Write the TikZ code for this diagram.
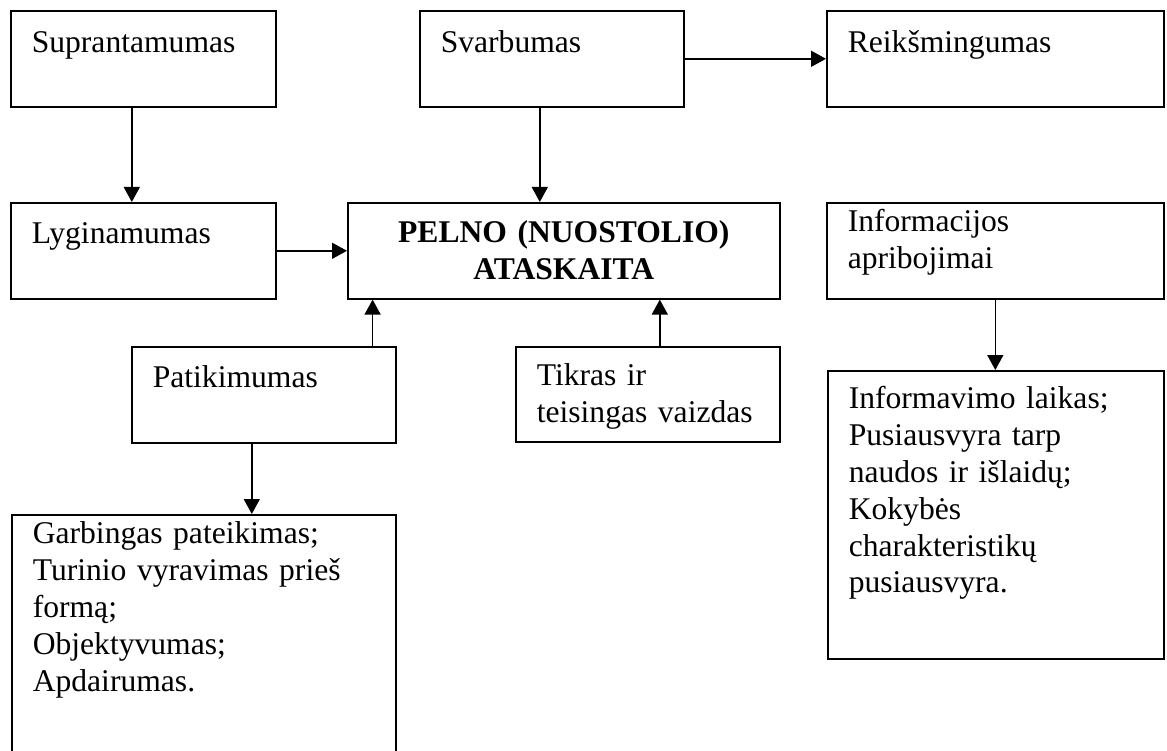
\documentclass[tikz,border=0pt]{standalone}
\usepackage{fontspec}
\setmainfont{Liberation Serif}
\usetikzlibrary{arrows.meta}

\begin{document}
\begin{tikzpicture}[x=1pt,y=1pt,
    box/.style n args={3}{draw,line width=1.6pt,anchor=north west,align=left,
      inner xsep=21pt,inner ysep=0pt,text width=#1,text height=#2,text depth=#3,
      font=\fontsize{31.6}{36.8}\selectfont},
    arr/.style={-{Triangle[length=15pt,width=16pt]},line width=1.6pt}]
  \useasboundingbox (0,0) rectangle (1167,-751);
  \node[box={223pt}{42pt}{54pt}] (sup) at (10,-10) {Suprantamumas};
  \node[box={222pt}{42pt}{54pt}] (svb) at (419,-10) {Svarbumas};
  \node[box={295pt}{42pt}{54pt}] (rei) at (826,-10) {Reikšmingumas};
  \node[box={223pt}{41pt}{55pt}] (lyg) at (10,-202) {Lyginamumas};
  \node[box={390pt}{40pt}{56pt},align=center,font=\fontsize{31.6}{36.8}\selectfont\bfseries]
    (pel) at (347,-202) {PELNO (NUOSTOLIO)\\ATASKAITA};
  \node[box={295pt}{29pt}{67pt}] (inf) at (826,-202) {Informacijos\\apribojimai};
  \node[box={222pt}{41pt}{55pt}] (pat) at (131,-346) {Patikimumas};
  \node[box={222pt}{39pt}{56pt}] (tik) at (515,-346) {Tikras ir\\teisingas vaizdas};
  \node[box={294pt}{38pt}{250pt}] (inl) at (827,-370)
    {Informavimo laikas;\\Pusiausvyra tarp\\naudos ir išlaidų;\\Kokybės\\charakteristikų\\pusiausvyra.};
  \node[box={342pt}{29pt}{231pt}] (gar) at (11,-514)
    {Garbingas pateikimas;\\Turinio vyravimas prieš\\formą;\\Objektyvumas;\\Apdairumas.};
  \draw[arr] ([xshift=-11.5pt]sup.south) -- ([xshift=-11.5pt]lyg.north);
  \draw[arr] ([xshift=-12pt]svb.south) -- ([xshift=-12pt]pel.north -| svb.south);
  \draw[arr] (svb.east) -- (rei.west);
  \draw[arr] (lyg.east) -- (pel.west);
  \draw[arr] ([xshift=-24pt]pat.north east) -- ([xshift=-24pt]pel.south -| pat.north east);
  \draw[arr] ([xshift=12pt]tik.north) -- ([xshift=12pt]pel.south -| tik.north);
  \draw[arr] ([xshift=-12pt]pat.south) -- ([xshift=-12pt]gar.north -| pat.south);
  \draw[arr] (inf.south) -- (inf.south |- inl.north);
\end{tikzpicture}
\end{document}
